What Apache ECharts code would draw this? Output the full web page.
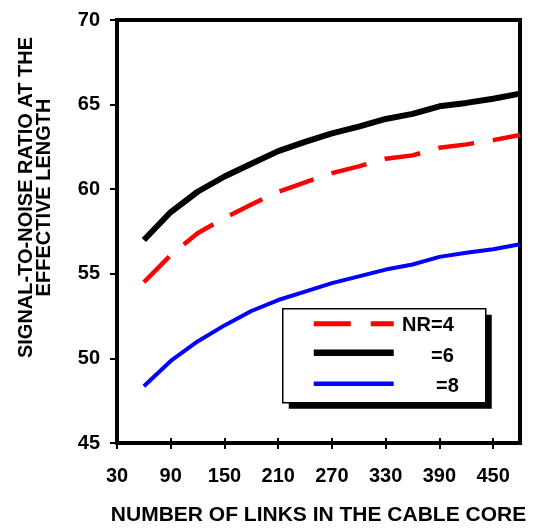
<!DOCTYPE html>
<html>
<head>
<meta charset="utf-8">
<script src="https://cdn.jsdelivr.net/npm/echarts@6/dist/echarts.min.js"></script>
<style>
  html, body { margin: 0; padding: 0; background: #fff; }
  #chart { width: 536px; height: 528px; }
</style>
</head>
<body>
<div id="chart"></div>
<script>
// Number of links in the cable core (x) and SNR at the effective length (y)
const links = [60, 90, 120, 150, 180, 210, 240, 270, 300, 330, 360, 390, 420, 450, 480];
const snrNR4 = [54.5, 56.1, 57.4, 58.3, 59.1, 59.85, 60.4, 60.95, 61.35, 61.8, 62.0, 62.45, 62.65, 62.9, 63.2];
const snrNR6 = [57.0, 58.65, 59.85, 60.75, 61.5, 62.25, 62.8, 63.3, 63.7, 64.15, 64.45, 64.9, 65.1, 65.35, 65.65];
const snrNR8 = [48.35, 49.85, 51.0, 51.95, 52.8, 53.45, 53.95, 54.45, 54.85, 55.25, 55.55, 56.0, 56.25, 56.45, 56.75];
const xTicks = { min: 30, max: 480, interval: 60 };
const yTicks = { min: 45, max: 70, interval: 5 };
const legendNames = ['NR=4', '=6', '=8'];

const FONT = 'Liberation Sans, Arial, sans-serif';
const pairs = ys => links.map((x, i) => [x, ys[i]]);

const chart = echarts.init(document.getElementById('chart'), null, { renderer: 'canvas' });

const baseX = {
  type: 'value',
  min: xTicks.min, max: xTicks.max, interval: xTicks.interval,
  splitLine: { show: false },
  axisLine: { show: true, lineStyle: { color: '#000', width: 4 } },
};

chart.setOption({
  animation: false,
  backgroundColor: '#fff',
  grid: {
    left: 117, right: 16, top: 20, bottom: 85,
    outerBoundsMode: 'none',
    show: true, borderColor: '#000', borderWidth: 4, backgroundColor: '#fff'
  },
  xAxis: [
    Object.assign({}, baseX, {
      name: 'NUMBER OF LINKS IN THE CABLE CORE',
      nameLocation: 'middle',
      nameGap: 62,
      nameTextStyle: { fontFamily: FONT, fontWeight: 'bold', fontSize: 21, color: '#000' },
      axisTick: { show: true, length: 6, lineStyle: { color: '#000', width: 2 } },
      axisLabel: {
        showMaxLabel: false, margin: 23,
        fontFamily: FONT, fontWeight: 'bold', fontSize: 20, color: '#000'
      }
    }),
    Object.assign({}, baseX, {
      gridIndex: 0, position: 'bottom',
      axisTick: { show: true, inside: true, length: 5, lineStyle: { color: '#000', width: 2 } },
      axisLabel: { show: false }
    })
  ],
  yAxis: {
    type: 'value',
    min: yTicks.min, max: yTicks.max, interval: yTicks.interval,
    name: 'SIGNAL-TO-NOISE RATIO AT THE\nEFFECTIVE LENGTH',
    nameLocation: 'middle',
    nameRotate: 90,
    nameGap: 64,
    nameTextStyle: {
      fontFamily: FONT, fontWeight: 'bold', fontSize: 20, lineHeight: 18, color: '#000',
      padding: [0, 0, 0, 68]
    },
    splitLine: { show: false },
    axisLine: { show: true, lineStyle: { color: '#000', width: 4 } },
    axisTick: { show: true, length: 7, lineStyle: { color: '#000', width: 2 } },
    axisLabel: { margin: 17, fontFamily: FONT, fontWeight: 'bold', fontSize: 20, color: '#000' }
  },
  series: [
    {
      name: legendNames[0], type: 'line', data: pairs(snrNR4),
      showSymbol: false, smooth: false,
      lineStyle: { color: '#ff0000', width: 4.5, type: [36, 19] }
    },
    {
      name: legendNames[1], type: 'line', data: pairs(snrNR6),
      showSymbol: false, smooth: false,
      lineStyle: { color: '#000', width: 6 }
    },
    {
      name: legendNames[2], type: 'line', data: pairs(snrNR8),
      showSymbol: false, smooth: false,
      lineStyle: { color: '#0000ff', width: 4 }
    }
  ],
  graphic: [
    {
      type: 'group', left: 282, top: 308, z: 100,
      children: [
        { type: 'rect', shape: { x: 6, y: 6, width: 203, height: 94 }, style: { fill: '#000' } },
        { type: 'rect', shape: { x: 0, y: 0, width: 203, height: 94 }, style: { fill: '#fff', stroke: '#000', lineWidth: 1.5 } },
        { type: 'line', shape: { x1: 31, y1: 15, x2: 111, y2: 15 }, style: { stroke: '#ff0000', lineWidth: 5, lineDash: [37, 20] } },
        { type: 'line', shape: { x1: 31, y1: 44, x2: 111, y2: 44 }, style: { stroke: '#000', lineWidth: 6.5 } },
        { type: 'line', shape: { x1: 31, y1: 75, x2: 111, y2: 75 }, style: { stroke: '#0000ff', lineWidth: 4.5 } },
        { type: 'text', x: 171, y: 17, style: { text: legendNames[0], fill: '#000', font: 'bold 20px ' + FONT, textAlign: 'right', textVerticalAlign: 'middle' } },
        { type: 'text', x: 171, y: 48, style: { text: legendNames[1], fill: '#000', font: 'bold 20px ' + FONT, textAlign: 'right', textVerticalAlign: 'middle' } },
        { type: 'text', x: 176, y: 78, style: { text: legendNames[2], fill: '#000', font: 'bold 20px ' + FONT, textAlign: 'right', textVerticalAlign: 'middle' } }
      ]
    }
  ]
});
</script>
</body>
</html>
